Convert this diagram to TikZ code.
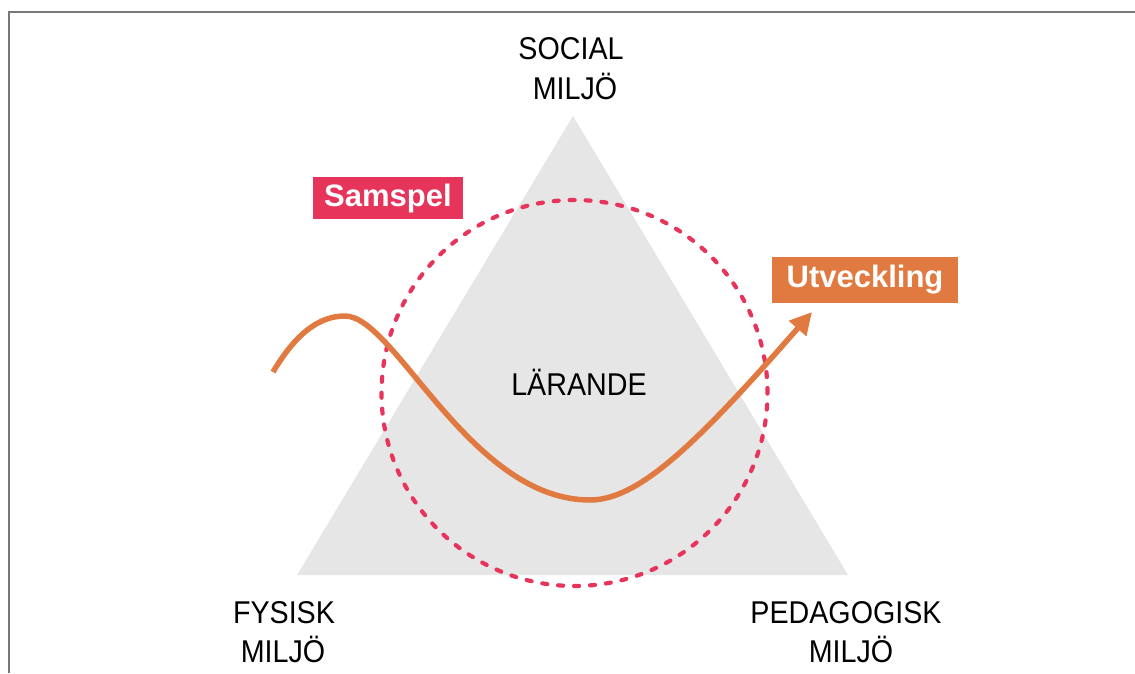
\documentclass[tikz,border=0pt]{standalone}
\usepackage{fontspec}
\setmainfont{Liberation Sans}
\newfontfamily\lblfont[FakeStretch=0.91]{Liberation Sans}
\usetikzlibrary{arrows.meta}
\definecolor{tri}{RGB}{230,230,230}
\definecolor{crim}{RGB}{230,52,90}
\definecolor{orng}{RGB}{224,122,64}
\definecolor{frame}{RGB}{120,120,120}
\tikzset{
  lbl/.style={font=\lblfont\fontsize{31.5}{39}\selectfont, anchor=base, inner sep=0pt, text=black},
  tagbox/.style={font=\bfseries\fontsize{31}{37}\selectfont, text=white, inner sep=0pt, anchor=center},
  dots/.style={draw=crim, line width=4.2pt, line cap=round, dash pattern=on 5pt off 10.95pt},
  wave/.style={draw=orng, line width=5.5pt, -{Triangle[length=22pt,width=22pt]}}
}
\begin{document}
\begin{tikzpicture}[x=1pt,y=-1pt]
\useasboundingbox (0,0) rectangle (1135,673);
% frame
\draw[frame, line width=2pt] (9,673) -- (9,12) -- (1136,12);
% triangle
\fill[tri] (573,116) -- (848,575) -- (297,575) -- cycle;
% circle
\coordinate (cc) at (574.5,393);
\draw[dots] (cc) circle[radius=193pt];
% labels
\node[lbl] (social1) at (571,59) {SOCIAL};
\node[lbl] (social2) at (575,99) {MILJÖ};
\node[lbl] (fys1) at (284,623) {FYSISK};
\node[lbl] (fys2) at (283,662) {MILJÖ};
\node[lbl] (ped1) at (846,623) {PEDAGOGISK};
\node[lbl] (ped2) at (851,662) {MILJÖ};
\node[lbl] (lar) at (579,395) {LÄRANDE};
% tag boxes
\fill[crim] (313,177) rectangle (463,219);
\node[tagbox] (samspel) at (388,198) {Samspel};
\fill[orng] (772,257) rectangle (958,303);
\node[tagbox] (utv) at (865,280) {Utveckling};
% wave
\coordinate (ws) at (273,372);
\coordinate (wp) at (345,316);
\coordinate (wv) at (590,500);
\coordinate (we) at (812,312);
\draw[wave] (ws) .. controls (295,335) and (318,316) .. (wp)
  .. controls (395,316) and (470,500) .. (wv)
  .. controls (640,500) and (700,440) .. (we);
\end{tikzpicture}
\end{document}
